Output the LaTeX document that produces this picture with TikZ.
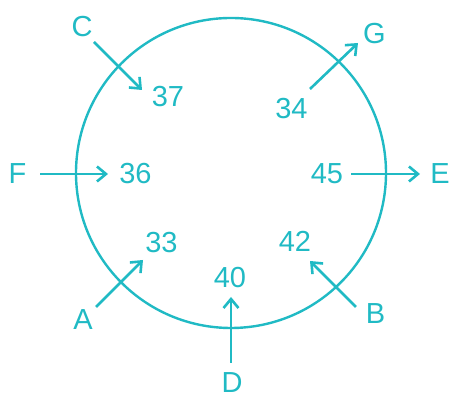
\documentclass[tikz,border=0pt]{standalone}
\usepackage{fontspec}
\setmainfont{Liberation Sans}
\usetikzlibrary{arrows.meta}
\definecolor{ink}{RGB}{32,186,196}

\begin{document}
\begin{tikzpicture}[every node/.style={font=\fontsize{29}{29}\selectfont, text=ink}, x=1pt, y=1pt,
	arr/.style={ink, line width=2.6pt, -{Straight Barb[length=9pt, width=15pt]}}]
	\useasboundingbox (0,0) rectangle (451,398);
	\draw[ink, line width=2.4pt] (231,225) circle (155);
	\node (C) at (82,371) {C};
	\node (n37) at (168,301.5) {37};
	\node (G) at (374.5,364.5) {G};
	\node (n34) at (291.5,289) {34};
	\node (F) at (17.5,224) {F};
	\node (n36) at (135.5,224) {36};
	\node (n45) at (327,224) {45};
	\node (E) at (440,224) {E};
	\node (n33) at (161.5,155) {33};
	\node (n42) at (295,157) {42};
	\node (A) at (83,78) {A};
	\node (B) at (375.5,84) {B};
	\node (n40) at (230,120.5) {40};
	\node (D) at (232,15.5) {D};
	\draw[arr] (C) ++(12,-15) -- ++(48,-48);
	\draw[arr] (F) ++(22.5,0) -- ++(68,0);
	\draw[arr] (n34) ++(18.5,20) -- ++(48,46);
	\draw[arr] (n45) ++(24,0) -- ++(69,0);
	\draw[arr] (A) ++(13,13) -- ++(47,47);
	\draw[arr] (B) ++(-19.5,7) -- ++(-46,46);
	\draw[arr] (D) ++(-1,19.5) -- ++(0,66);
\end{tikzpicture}
\end{document}
